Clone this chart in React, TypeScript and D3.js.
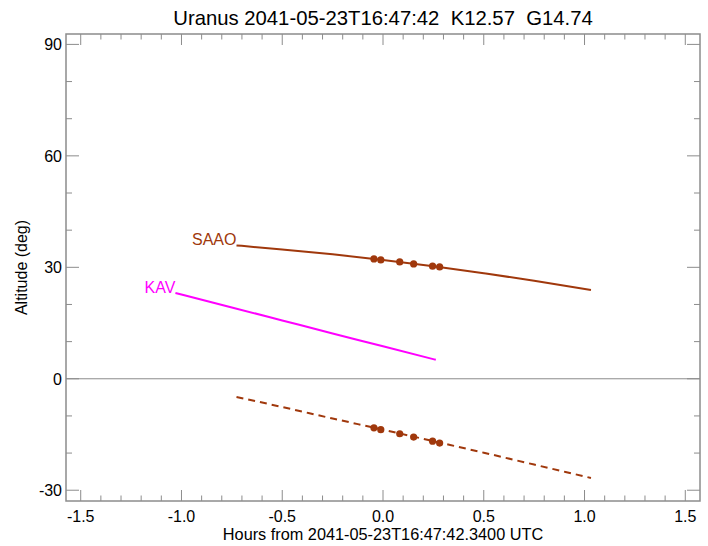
import * as d3 from "d3";
import { useEffect } from "react";

// altitude curves (hours from reference epoch, degrees)
const saaoHours = [-0.727, -0.5, -0.25, 0, 0.25, 0.5, 0.75, 1.032];
const saaoAlt = [35.9, 34.8, 33.5, 32.0, 30.3, 28.4, 26.4, 23.9];
const sunHours = [-0.727, -0.5, -0.25, 0, 0.25, 0.5, 0.75, 1.032];
const sunAlt = [-4.9, -7.6, -10.7, -13.7, -16.8, -19.9, -23.1, -26.7];
const kavHours = [-1.03, -0.75, -0.5, -0.25, 0, 0.262];
const kavAlt = [23.1, 19.2, 15.7, 12.2, 8.75, 5.1];

// observation times
const obsHours = [-0.045, -0.011, 0.083, 0.152, 0.246, 0.281];
const obsAlt = [32.25, 32.0, 31.45, 30.9, 30.3, 30.1];
const obsSunAlt = [-13.2, -13.7, -14.8, -15.7, -16.8, -17.3];

const xTicks = [-1.5, -1.0, -0.5, 0.0, 0.5, 1.0, 1.5];
const yTicks = [-30, 0, 30, 60, 90];

const W = 708;
const H = 546;
const margin = { left: 66, right: 8, top: 34, bottom: 45 };
const font = "'Liberation Sans', Arial, Helvetica, sans-serif";
const brown = "#a0380c";
const magenta = "#ff00ff";
const frame = "#8c8c8c";

const App = () => {
  useEffect(() => {
    document.body.style.margin = "0";
  }, []);

  const x = d3
    .scaleLinear()
    .domain([-1.573, 1.573])
    .range([margin.left, W - margin.right]);
  const y = d3
    .scaleLinear()
    .domain([-32.9, 92.8])
    .range([H - margin.bottom, margin.top]);

  const line = d3
    .line<[number, number]>()
    .x((d) => x(d[0]))
    .y((d) => y(d[1]))
    .curve(d3.curveMonotoneX);

  const saao = saaoHours.map((h, i) => [h, saaoAlt[i]] as [number, number]);
  const sun = sunHours.map((h, i) => [h, sunAlt[i]] as [number, number]);
  const kav = kavHours.map((h, i) => [h, kavAlt[i]] as [number, number]);

  const xMinor = d3.range(-15, 16).map((v) => v / 10);
  const yMinor = d3.range(-30, 91, 10);

  const [x0, x1] = x.range();
  const [y0, y1] = y.range();

  return (
    <svg
      width={W}
      height={H}
      style={{ position: "absolute", left: 0, top: 0, background: "white" }}
      fontFamily={font}
    >
      <text x={383} y={25} textAnchor="middle" fontSize={20.3}>
        Uranus 2041-05-23T16:47:42{"\u00a0\u00a0"}K12.57{"\u00a0\u00a0"}G14.74
      </text>

      {/* zero line */}
      <line x1={x0} x2={x1} y1={y(0)} y2={y(0)} stroke={frame} strokeWidth={1} />

      {/* x ticks, bottom and top */}
      {xMinor.map((v) => {
        const major = Math.abs(v * 2 - Math.round(v * 2)) < 1e-6;
        const len = major ? 11 : 5.5;
        return (
          <g key={"x" + v} stroke={frame} strokeWidth={1}>
            <line x1={x(v)} x2={x(v)} y1={y0} y2={y0 - len} />
            <line x1={x(v)} x2={x(v)} y1={y1} y2={y1 + len} />
          </g>
        );
      })}
      {/* y ticks, left and right */}
      {yMinor.map((v) => {
        const major = v % 30 === 0;
        const len = major ? 13 : 6;
        return (
          <g key={"y" + v} stroke={frame} strokeWidth={1}>
            <line x1={x0} x2={x0 + len} y1={y(v)} y2={y(v)} />
            <line x1={x1} x2={x1 - len} y1={y(v)} y2={y(v)} />
          </g>
        );
      })}

      <rect
        x={x0}
        y={y1}
        width={x1 - x0}
        height={y0 - y1}
        fill="none"
        stroke={frame}
        strokeWidth={1.5}
      />

      {xTicks.map((v) => (
        <text key={"xl" + v} x={x(v)} y={y0 + 21} textAnchor="middle" fontSize={16}>
          {v.toFixed(1)}
        </text>
      ))}
      {yTicks.map((v) => (
        <text key={"yl" + v} x={x0 - 4} y={y(v) + 6} textAnchor="end" fontSize={16}>
          {v}
        </text>
      ))}

      <text x={383} y={540} textAnchor="middle" fontSize={16.3}>
        Hours from 2041-05-23T16:47:42.3400 UTC
      </text>
      <text
        transform={`translate(27, ${(y0 + y1) / 2}) rotate(-90)`}
        textAnchor="middle"
        fontSize={16}
      >
        Altitude (deg)
      </text>

      {/* curves */}
      <path d={line(saao)!} fill="none" stroke={brown} strokeWidth={2} />
      <path
        d={line(sun)!}
        fill="none"
        stroke={brown}
        strokeWidth={2}
        strokeDasharray="7,5"
      />
      <path d={line(kav)!} fill="none" stroke={magenta} strokeWidth={2} />

      {obsHours.map((h, i) => (
        <g key={"o" + i} fill={brown}>
          <circle cx={x(h)} cy={y(obsAlt[i])} r={3.6} />
          <circle cx={x(h)} cy={y(obsSunAlt[i])} r={3.6} />
        </g>
      ))}

      <text
        x={x(saaoHours[0])}
        y={y(saaoAlt[0])}
        textAnchor="end"
        fontSize={16}
        fill={brown}
      >
        SAAO
      </text>
      <text
        x={x(kavHours[0])}
        y={y(kavAlt[0])}
        textAnchor="end"
        fontSize={16}
        fill={magenta}
      >
        KAV
      </text>
    </svg>
  );
};

export default App;
